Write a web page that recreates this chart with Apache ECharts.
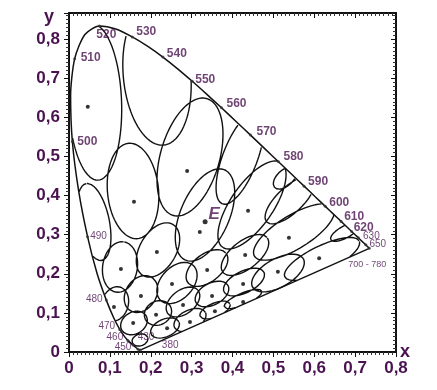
<!DOCTYPE html>
<html><head><meta charset="utf-8">
<script src="https://cdn.jsdelivr.net/npm/echarts@6/dist/echarts.min.js"></script>
<style>html,body{margin:0;padding:0;background:#fff}#c{width:437px;height:390px}</style>
</head><body><div id="c"></div>
<script>
// CIE 1931 spectral locus (wavelength, x, y)
const locusWl = [380,400,420,430,440,450,455,460,465,470,475,480,485,490,495,500,505,510,515,520,525,530,535,540,545,550,555,560,565,570,575,580,585,590,595,600,605,610,615,620,625,630,640,650,660,680,700];
const locusX = [0.1741,0.1733,0.1714,0.1689,0.1644,0.1566,0.1510,0.1440,0.1355,0.1241,0.1096,0.0913,0.0687,0.0454,0.0235,0.0082,0.0039,0.0139,0.0389,0.0743,0.1142,0.1547,0.1929,0.2296,0.2658,0.3016,0.3373,0.3731,0.4087,0.4441,0.4788,0.5125,0.5448,0.5752,0.6029,0.6270,0.6482,0.6658,0.6801,0.6915,0.7006,0.7079,0.7190,0.7260,0.7300,0.7334,0.7347];
const locusY = [0.0050,0.0048,0.0051,0.0069,0.0109,0.0177,0.0227,0.0297,0.0399,0.0578,0.0868,0.1327,0.2007,0.2950,0.4127,0.5384,0.6548,0.7502,0.8120,0.8338,0.8262,0.8059,0.7816,0.7543,0.7243,0.6923,0.6589,0.6245,0.5896,0.5547,0.5202,0.4866,0.4544,0.4242,0.3965,0.3725,0.3514,0.3340,0.3197,0.3083,0.2993,0.2920,0.2809,0.2740,0.2700,0.2666,0.2653];

// labelled wavelengths
const labelWl   = [380,430,450,460,470,480,490,500,510,520,530,540,550,560,570,580,590,600,610,620,630,650,700];
const labelText = ['380','430','450','460','470','480','490','500','510','520','530','540','550','560','570','580','590','600','610','620','630','650','700 - 780'];

// ellipses: centre, semi-axes, orientation (deg)
const ellCx  = [0.0636,0.2153,0.2960,0.1566,0.0612,0.4183,0.3327,0.4477,0.5407,0.5505,0.6190,0.6752,0.2177,0.1248,0.3376,0.2642,0.1761,0.1125,0.1590,0.2177,0.2789,0.2349,0.2960,0.3498,0.3572,0.4306,0.5113,0.4281,0.4257,0.1737,0.5284];
const ellCy  = [0.6394,0.7084,0.4987,0.4118,0.3325,0.4962,0.3504,0.3760,0.3887,0.3069,0.2380,0.3069,0.2609,0.2174,0.2148,0.1765,0.1483,0.1228,0.0742,0.0997,0.1279,0.0614,0.0818,0.1483,0.1074,0.2481,0.2020,0.1790,0.1355,0.0307,0.4450];
const ellA   = [0.200,0.180,0.155,0.1225,0.100,0.125,0.125,0.130,0.080,0.115,0.102,0.040,0.075,0.065,0.060,0.060,0.050,0.045,0.035,0.035,0.0475,0.0375,0.0425,0.045,0.040,0.070,0.072,0.055,0.050,0.020,0.035];
const ellB   = [0.065,0.0825,0.0725,0.0625,0.0375,0.0425,0.060,0.0525,0.0325,0.0425,0.033,0.015,0.045,0.0425,0.035,0.040,0.0375,0.0325,0.0275,0.030,0.030,0.0225,0.025,0.0275,0.0175,0.035,0.036,0.0275,0.015,0.015,0.020];
const ellAng = [92,95,75,95,101,70,68,57,45,33,27,30,62,82,40,50,60,75,35,35,40,25,28,30,24,40,31,28,24,20,45];

// centre dots
const dotX = [0.046,0.289,0.159,0.215,0.127,0.320,0.338,0.252,0.176,0.110,0.279,0.213,0.157,0.296,0.240,0.350,0.357,0.438,0.431,0.538,0.511,0.612,0.426,0.426];
const dotY = [0.627,0.463,0.384,0.256,0.212,0.307,0.210,0.174,0.143,0.115,0.120,0.095,0.074,0.077,0.061,0.143,0.104,0.361,0.248,0.292,0.205,0.240,0.174,0.128];

// equal-energy white point
const whiteX = [0.333], whiteY = [0.333], whiteName = 'E';

const axisTickVals = [0,0.1,0.2,0.3,0.4,0.5,0.6,0.7,0.8];

const PURPLE = '#4a1350';

// polygon for clipping ellipses to the gamut
const poly = locusX.map((x,i)=>[x,locusY[i]]);
function inside(x,y){
  let c=false;
  for(let i=0,j=poly.length-1;i<poly.length;j=i++){
    const xi=poly[i][0], yi=poly[i][1], xj=poly[j][0], yj=poly[j][1];
    if(((yi>y)!==(yj>y)) && (x < (xj-xi)*(y-yi)/(yj-yi)+xi)) c=!c;
  }
  return c;
}
const ellData=[];
for(let k=0;k<ellCx.length;k++){
  const t=ellAng[k]*Math.PI/180, N=160;
  let prevIn=false;
  for(let i=0;i<=N;i++){
    const p=2*Math.PI*i/N;
    const ex=ellA[k]*Math.cos(p), ey=ellB[k]*Math.sin(p);
    const x=ellCx[k]+ex*Math.cos(t)-ey*Math.sin(t);
    const y=ellCy[k]+ex*Math.sin(t)+ey*Math.cos(t);
    if(inside(x,y)){ellData.push([x,y]);prevIn=true;}
    else if(prevIn){ellData.push(['-','-']);prevIn=false;}
  }
  ellData.push(['-','-']);
}

const locusData = locusX.map((x,i)=>[x,locusY[i]]);
const purpleData = [[locusX[locusX.length-1],locusY[locusY.length-1]],[locusX[0],locusY[0]]];

// label placement (style only)
const labelOffset = {380:[30,-5],430:[8,-12],450:[-10,2],460:[-13,-3],470:[-13,-3],480:[-12,-1],490:[11,0],500:[15,0],510:[16,-1],520:[7,9],530:[14,-5],540:[14,-3],550:[13,-2],560:[15,-4],570:[16,-3],580:[15,-5],590:[14,-4],600:[14,-4],610:[13,-5],620:[12,-4],630:[13,-2],650:[12,-1],700:[-2,16]};
const small = {380:1,430:1,450:1,460:1,470:1,480:1,490:1,630:1,650:1,700:1};
const labelData = labelWl.map((w,i)=>{
  const j=locusWl.indexOf(w);
  const sm = !!small[w];
  return {value:[locusX[j],locusY[j]], label:{show:true, formatter:labelText[i], offset:labelOffset[w],
    fontSize: w===700?9:(sm?10:12), fontWeight: sm?'normal':'bold'}};
});

function fmt(v){
  for(const t of axisTickVals){ if(Math.abs(v-t)<1e-6) return t===0?'0':t.toFixed(1).replace('.',','); }
  return '';
}
const labelStyle={color:PURPLE,fontWeight:'bold',fontSize:17,fontFamily:'Liberation Sans, Arial, sans-serif'};
const lineStyle={color:'#111',width:2};
const tick={show:true,length:5,lineStyle:{color:'#111',width:1}};
const minor={show:true,splitNumber:10,length:3,lineStyle:{color:'#333',width:1}};

const chart=echarts.init(document.getElementById('c'));
chart.setOption({
  animation:false,
  backgroundColor:'#fff',
  textStyle:{fontFamily:'Liberation Sans, Arial, sans-serif'},
  grid:{left:69,right:41,top:13,bottom:38},
  xAxis:[
    {type:'value',min:0,max:0.8,interval:0.1,position:'bottom',
     name:'x',nameLocation:'end',nameGap:4,nameMoveOverlap:false,nameTextStyle:{color:PURPLE,fontWeight:'bold',fontSize:18,align:'left',verticalAlign:'middle'},
     axisLine:{show:true,onZero:false,lineStyle:lineStyle},axisTick:Object.assign({inside:false},tick),
     minorTick:minor,
     axisLabel:Object.assign({margin:8,formatter:fmt},labelStyle),splitLine:{show:false}},
    {type:'value',min:0,max:0.8,interval:0.1,position:'top',
     axisLine:{show:true,onZero:false,lineStyle:lineStyle},axisTick:Object.assign({inside:true},tick),
     minorTick:minor,
     axisLabel:{show:false},splitLine:{show:false}}
  ],
  yAxis:[
    {type:'value',min:0,max:0.867,interval:0.1,position:'left',
     name:'y',nameLocation:'end',nameGap:-4,nameMoveOverlap:false,nameTextStyle:{color:PURPLE,fontWeight:'bold',fontSize:18,align:'right',verticalAlign:'middle',padding:[0,15,0,0]},
     axisLine:{show:true,onZero:false,lineStyle:lineStyle},axisTick:Object.assign({inside:false},tick),
     minorTick:minor,
     axisLabel:Object.assign({margin:9,formatter:fmt,showMaxLabel:false},labelStyle),splitLine:{show:false}},
    {type:'value',min:0,max:0.867,interval:0.1,position:'right',
     axisLine:{show:true,onZero:false,lineStyle:lineStyle},axisTick:Object.assign({inside:true},tick),
     minorTick:minor,
     axisLabel:{show:false},splitLine:{show:false}}
  ],
  series:[
    {type:'line',data:ellData,symbol:'none',connectNulls:false,lineStyle:{color:'#111',width:1.4},z:2},
    {type:'line',data:locusData,symbol:'none',smooth:0.25,lineStyle:{color:'#111',width:1.5},z:3},
    {type:'line',data:purpleData,symbol:'none',lineStyle:{color:'#111',width:1.4},z:3},
    {type:'scatter',data:dotX.map((x,i)=>[x,dotY[i]]),symbol:'circle',symbolSize:4,itemStyle:{color:'#000'},z:4},
    {type:'scatter',data:whiteX.map((x,i)=>[x,whiteY[i]]),symbol:'circle',symbolSize:5,itemStyle:{color:'#000'},z:4,
     label:{show:true,formatter:whiteName,position:'inside',offset:[9,-7],color:PURPLE,fontWeight:'bold',fontStyle:'italic',fontSize:17}},
    {type:'scatter',data:labelData,symbol:'circle',symbolSize:3,itemStyle:{color:'#333'},z:5,
     label:{show:true,position:'inside',color:PURPLE,align:'center',verticalAlign:'middle'}}
  ]
});
</script></body></html>
